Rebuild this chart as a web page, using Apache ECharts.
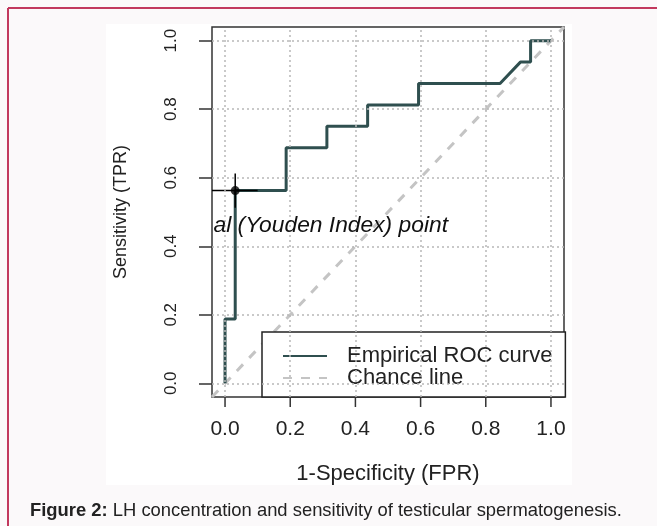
<!DOCTYPE html>
<html>
<head>
<meta charset="utf-8">
<script src="https://cdn.jsdelivr.net/npm/echarts@6/dist/echarts.min.js"></script>
<style>
  html, body { margin: 0; padding: 0; background: #fbf9fa; }
  #chart { width: 657px; height: 526px; }
</style>
</head>
<body>
<div id="chart"></div>
<script>
// ROC curve, step points (1-specificity, sensitivity)
const fprValues = [0, 0, 0.03125, 0.03125, 0.1875, 0.1875, 0.3125, 0.3125, 0.4375, 0.4375, 0.59375, 0.59375, 0.84375, 0.90625, 0.9375, 0.9375, 1.0];
const tprValues = [0, 0.1875, 0.1875, 0.5625, 0.5625, 0.6875, 0.6875, 0.75, 0.75, 0.8125, 0.8125, 0.875, 0.875, 0.9375, 0.9375, 1.0, 1.0];

// optimal (Youden) point and its little cross
const youdenPoint = [0.03125, 0.5625];
const youdenCrossX = [-0.04, 0.1];
const youdenCrossY = [0.5125, 0.6125];

// axes (R style: 4% padding around 0..1)
const axisRange = [-0.04, 1.04];
const tickRange = [0, 1];
const tickStep = 0.2;
const tickValues = [0, 0.2, 0.4, 0.6, 0.8, 1.0];
const tickLabels = ['0.0', '0.2', '0.4', '0.6', '0.8', '1.0'];

const chanceLine = [[axisRange[0], axisRange[0]], [axisRange[1], axisRange[1]]];
const rocData = fprValues.map((x, i) => [x, tprValues[i]]);

const fontFam = '"Liberation Sans", Arial, sans-serif';
const chart = echarts.init(document.getElementById('chart'));

// plot box and the 0..1 part of it (R puts ticks only on 0..1)
const box = { left: 212, top: 27, width: 352, height: 370 };
const padX = box.width * 0.04 / 1.08, padY = box.height * 0.04 / 1.08;

const tickFmt = v => tickLabels[tickValues.findIndex(t => Math.abs(t - v) < 1e-9)] ?? v.toFixed(1);

const option = {
  backgroundColor: 'transparent',
  animation: false,
  grid: [
    { ...box, show: true, borderColor: '#333', borderWidth: 1.5, backgroundColor: 'transparent' },
    { left: box.left + padX, top: box.top + padY, width: box.width - 2 * padX, height: box.height - 2 * padY }
  ],
  xAxis: [
    { gridIndex: 0, type: 'value', min: axisRange[0], max: axisRange[1], show: false },
    {
      gridIndex: 1, type: 'value', position: 'bottom', min: tickRange[0], max: tickRange[1], interval: tickStep,
      offset: padY,
      axisLine: { show: false, onZero: false },
      splitLine: { show: false },
      axisTick: { show: false },
      axisLabel: { margin: 22, formatter: tickFmt, color: '#222', fontSize: 21, fontFamily: fontFam },
      name: '1-Specificity (FPR)', nameLocation: 'middle', nameGap: 66,
      nameTextStyle: { color: '#222', fontSize: 22, fontFamily: fontFam }
    }
  ],
  yAxis: [
    { gridIndex: 0, type: 'value', min: axisRange[0], max: axisRange[1], show: false },
    {
      gridIndex: 1, type: 'value', min: tickRange[0], max: tickRange[1], interval: tickStep,
      offset: padX,
      axisLine: { show: false, onZero: false },
      splitLine: { show: false },
      axisTick: { show: true, length: 13, lineStyle: { color: '#333', width: 1.5 } },
      axisLabel: { margin: 32, rotate: 90, formatter: tickFmt, color: '#222', fontSize: 17, fontFamily: fontFam },
      name: 'Sensitivity (TPR)', nameLocation: 'middle', nameGap: 82,
      nameTextStyle: { color: '#222', fontSize: 18, fontFamily: fontFam }
    }
  ],
  legend: {
    data: ['Empirical ROC curve', 'Chance line'],
    orient: 'vertical', left: 262, top: 332,
    padding: [13, 13, 8, 20],
    itemWidth: 44, itemHeight: 14, itemGap: 0,
    selectedMode: false,
    itemStyle: { opacity: 0, borderWidth: 0 },
    backgroundColor: '#fff', borderColor: '#222', borderWidth: 1.5, borderRadius: 0,
    textStyle: { color: '#222', fontSize: 22, lineHeight: 22, fontFamily: fontFam, padding: [0, 0, 0, 15] }
  },
  graphic: [
    { type: 'rect', z: -10, shape: { x: 106, y: 24, width: 466, height: 461 }, style: { fill: '#fff' }, silent: true },
    { type: 'line', shape: { x1: 8, y1: 8, x2: 657, y2: 8 }, style: { stroke: '#c2395e', lineWidth: 2 }, silent: true },
    { type: 'line', shape: { x1: 8, y1: 8, x2: 8, y2: 526 }, style: { stroke: '#c2395e', lineWidth: 2 }, silent: true },
    {
      type: 'text', left: 30, top: 502, silent: true,
      style: {
        text: '{b|Figure 2:} LH concentration and sensitivity of testicular spermatogenesis.',
        font: '18.4px "Liberation Sans", Arial, sans-serif', fill: '#222',
        rich: { b: { fontWeight: 'bold', fontSize: 18.4, fontFamily: fontFam, fill: '#222' } }
      }
    }
  ],
  series: [
    {
      // dotted reference grid, drawn across the whole box
      name: 'grid', type: 'line', data: [], z: 1, silent: true,
      markLine: {
        silent: true, symbol: 'none', label: { show: false },
        lineStyle: { color: '#b8b8b8', type: [2, 3], width: 1.5 },
        data: tickValues.map(v => ({ xAxis: v })).concat(tickValues.map(v => ({ yAxis: v })))
      }
    },
    {
      // x ticks under the box, outward like R
      name: 'xticks', type: 'custom', data: tickValues.map(v => [v]), clip: false, silent: true, z: 6,
      encode: { x: 0 },
      renderItem: (params, api) => {
        const p = api.coord([api.value(0), axisRange[0]]);
        return { type: 'line', shape: { x1: p[0], y1: p[1], x2: p[0], y2: p[1] + 10 }, style: { stroke: '#333', lineWidth: 1.5 } };
      }
    },
    {
      name: 'Chance line', type: 'line', data: chanceLine, symbol: 'none', z: 2,
      lineStyle: { color: '#c4c4c4', width: 3, type: [9, 9] },
      itemStyle: { color: '#c4c4c4' }
    },
    {
      name: 'Empirical ROC curve', type: 'line', data: rocData, symbol: 'none', z: 3,
      lineStyle: { color: '#2f4f4f', width: 3 },
      itemStyle: { color: '#2f4f4f' }
    },
    {
      name: 'youdenH', type: 'line', symbol: 'none', z: 4,
      data: youdenCrossX.map(x => [x, youdenPoint[1]]),
      lineStyle: { color: '#000', width: 1.5 }
    },
    {
      name: 'youdenV', type: 'line', symbol: 'none', z: 4,
      data: youdenCrossY.map(y => [youdenPoint[0], y]),
      lineStyle: { color: '#000', width: 1.5 }
    },
    {
      name: 'Youden point', type: 'scatter', data: [youdenPoint], z: 5,
      symbol: 'circle', symbolSize: 9, itemStyle: { color: '#000' }
    },
    {
      name: 'annotation', type: 'scatter', z: 5, silent: true,
      data: [[axisRange[0], 0.46]], symbolSize: 1, itemStyle: { color: 'rgba(0,0,0,0)' },
      label: {
        show: true, position: 'right', distance: 1, opacity: 1,
        formatter: 'al (Youden Index) point',
        color: '#111', fontSize: 22.8, fontStyle: 'italic', fontFamily: fontFam
      }
    }
  ]
};

chart.setOption(option);
</script>
</body>
</html>
